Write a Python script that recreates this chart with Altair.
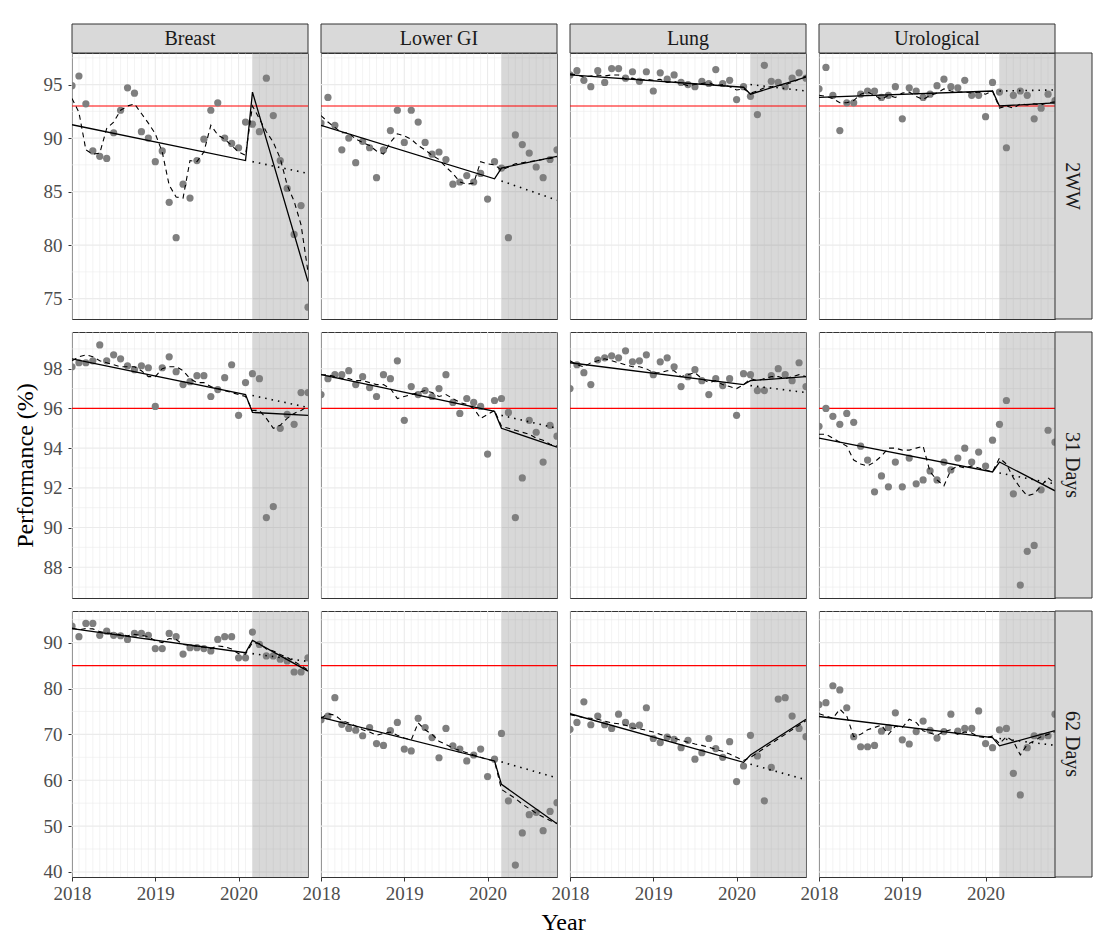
import altair as alt
import pandas as pd

# ---------------------------------------------------------------------------
# Monthly series, January 2018 to November 2020
# ---------------------------------------------------------------------------
MONTHS = [f"{2018 + i // 12}-{i % 12 + 1:02d}" for i in range(35)]
LOCKDOWN_START = "2020-03"          # first month of the shaded COVID-19 period

SITES = ["Breast", "Lower GI", "Lung", "Urological"]
MEASURES = ["2WW", "31 Days", "62 Days"]
TARGETS = {"2WW": 93, "31 Days": 96, "62 Days": 85}

Y_DOMAIN = {"2WW": [73.1, 97.95], "31 Days": [86.45, 99.85], "62 Days": [38.9, 96.9]}
Y_TICKS = {"2WW": [75, 80, 85, 90, 95],
           "31 Days": [88, 90, 92, 94, 96, 98],
           "62 Days": [40, 50, 60, 70, 80, 90]}
X_TICKS = [2018, 2019, 2020]

# observed performance (%), fitted values (with seasonality),
# segmented trend [first, pre-COVID last, COVID first, last] and
# counterfactual trend [COVID first, last]

# --- 2 week wait -----------------------------------------------------------
BREAST_2WW = [94.9, 95.8, 93.2, 88.8, 88.3, 88.1, 90.5, 92.6, 94.7, 94.2, 90.6, 90.0,
              87.8, 88.8, 84.0, 80.7, 85.7, 84.4, 87.9, 89.9, 92.6, 93.3, 90.0, 89.5,
              89.1, 91.5, 91.3, 90.6, 95.6, 92.1, 87.9, 85.3, 81.0, 83.7, 74.2]
BREAST_2WW_FIT = [93.7, 92.4, 88.9, 88.5, 88.6, 90.9, 91.5, 92.6, 93.0, 93.2, 92.3, 91.4,
                  90.4, 88.7, 85.6, 84.5, 84.4, 87.9, 87.8, 88.7, 91.2, 90.3, 89.9, 89.3,
                  88.7, 88.4, 93.0, 91.8, 90.6, 89.6, 88.1, 85.6, 84.1, 81.9, 77.5]
BREAST_2WW_TREND = [91.25, 87.9, 94.3, 76.6]
BREAST_2WW_CF = [87.8, 86.7]

LOWERGI_2WW = [91.4, 93.8, 91.2, 88.9, 90.0, 87.7, 89.7, 89.1, 86.3, 88.9, 90.7, 92.6,
               89.6, 92.6, 91.5, 89.6, 88.5, 88.7, 88.0, 85.7, 85.9, 86.5, 85.9, 86.7,
               84.3, 87.8, 87.2, 80.7, 90.3, 89.4, 88.6, 87.3, 86.3, 88.0, 88.9]
LOWERGI_2WW_FIT = [92.1, 91.5, 91.0, 90.5, 90.5, 89.9, 89.6, 89.3, 88.8, 88.5, 89.6, 90.4,
                   90.2, 89.9, 89.3, 88.9, 88.4, 88.0, 87.3, 86.7, 85.9, 85.7, 85.8, 87.8,
                   87.6, 87.5, 87.0, 87.3, 87.6, 87.7, 87.8, 87.9, 88.0, 88.1, 88.2]
LOWERGI_2WW_TREND = [91.2, 86.2, 87.2, 88.3]
LOWERGI_2WW_CF = [86.0, 84.2]

LUNG_2WW = [95.9, 96.3, 95.4, 94.8, 96.3, 95.2, 96.5, 96.5, 95.6, 96.2, 95.3, 96.2,
            94.4, 96.1, 95.5, 95.9, 95.2, 95.0, 94.8, 95.3, 95.1, 96.4, 95.1, 95.4,
            93.6, 94.8, 93.9, 92.2, 96.8, 95.3, 95.2, 94.8, 95.6, 96.1, 95.6]
LUNG_2WW_FIT = [96.0, 95.9, 95.7, 95.8, 95.9, 95.8, 95.9, 95.9, 95.5, 95.6, 95.4, 95.5,
                95.4, 95.5, 95.2, 95.3, 95.1, 94.9, 95.0, 95.1, 95.2, 94.9, 95.0, 94.8,
                94.5, 94.6, 94.2, 94.4, 94.7, 94.8, 94.9, 95.0, 95.2, 95.5, 95.8]
LUNG_2WW_TREND = [95.9, 94.75, 94.1, 95.7]
LUNG_2WW_CF = [95.0, 94.4]

URO_2WW = [94.6, 96.6, 94.0, 90.7, 93.3, 93.3, 94.1, 94.4, 94.4, 93.8, 94.0, 94.8,
           91.8, 94.7, 94.4, 93.8, 94.1, 94.9, 95.5, 94.8, 94.7, 95.4, 94.0, 94.0,
           92.0, 95.2, 94.3, 89.1, 94.0, 94.4, 94.0, 91.8, 92.8, 94.1, 93.5]
URO_2WW_FIT = [94.0, 93.9, 93.7, 93.3, 93.3, 93.5, 94.1, 94.3, 94.0, 93.6, 94.0, 93.8,
               94.2, 94.3, 93.9, 93.6, 94.0, 94.2, 94.6, 94.4, 94.3, 94.3, 94.2, 94.3,
               94.1, 94.4, 92.8, 93.0, 92.8, 93.2, 93.1, 93.2, 93.1, 93.3, 93.4]
URO_2WW_TREND = [93.8, 94.4, 93.0, 93.3]
URO_2WW_CF = [94.4, 94.5]

# --- 31 days ----------------------------------------------------------------
BREAST_31 = [98.1, 98.3, 98.3, 98.4, 99.2, 98.4, 98.7, 98.5, 98.15, 97.95, 98.15, 98.05,
             96.1, 98.05, 98.6, 97.85, 97.2, 97.35, 97.65, 97.65, 96.6, 96.95, 97.55, 98.2,
             95.65, 97.3, 97.75, 97.5, 90.5, 91.05, 95.0, 95.7, 95.2, 96.8, 96.8]
BREAST_31_FIT = [98.4, 98.6, 98.7, 98.6, 98.4, 98.3, 98.2, 98.1, 98.1, 98.1, 97.9, 97.6,
                 97.6, 98.0, 98.1, 98.1, 97.9, 97.5, 97.3, 97.3, 97.1, 97.0, 96.9, 96.8,
                 96.7, 96.6, 95.9, 95.9, 95.5, 95.0, 95.15, 95.5, 95.75, 95.9, 96.1]
BREAST_31_TREND = [98.5, 96.7, 95.8, 95.65]
BREAST_31_CF = [96.65, 96.05]

LOWERGI_31 = [96.7, 97.5, 97.7, 97.7, 97.9, 97.2, 97.6, 97.05, 96.6, 97.7, 97.5, 98.4,
              95.4, 97.1, 96.7, 96.9, 96.6, 97.0, 97.7, 96.3, 95.75, 96.5, 96.3, 96.1,
              93.7, 96.4, 96.5, 95.8, 90.5, 92.5, 95.4, 94.8, 93.3, 95.15, 94.6]
LOWERGI_31_FIT = [97.7, 97.7, 97.6, 97.5, 97.5, 97.4, 97.4, 97.3, 97.2, 97.2, 97.0, 96.5,
                  96.6, 96.7, 96.8, 96.9, 96.8, 96.6, 96.7, 96.5, 96.3, 96.2, 96.0, 95.5,
                  95.7, 95.9, 95.1, 95.0, 94.9, 94.8, 94.7, 94.5, 94.4, 94.2, 94.1]
LOWERGI_31_TREND = [97.7, 95.85, 95.0, 94.05]
LOWERGI_31_CF = [95.65, 95.0]

LUNG_31 = [97.0, 98.2, 97.8, 97.2, 98.45, 98.55, 98.65, 98.55, 98.9, 98.35, 98.4, 98.7,
           97.7, 98.35, 98.55, 98.1, 97.1, 97.6, 97.95, 97.4, 96.7, 97.5, 97.15, 97.5,
           95.65, 97.75, 97.7, 96.9, 96.9, 97.65, 98.0, 97.7, 97.4, 98.3, 97.1]
LUNG_31_FIT = [98.4, 98.2, 98.1, 98.3, 98.4, 98.5, 98.4, 98.3, 98.2, 98.1, 98.1, 98.0,
               97.8, 97.8, 97.9, 97.9, 97.6, 97.7, 97.8, 97.5, 97.3, 97.4, 97.2, 97.1,
               97.0, 97.2, 97.5, 97.4, 97.5, 97.6, 97.6, 97.5, 97.6, 97.7, 97.6]
LUNG_31_TREND = [98.3, 97.2, 97.4, 97.6]
LUNG_31_CF = [97.15, 96.8]

URO_31 = [95.1, 96.0, 95.6, 95.2, 95.75, 95.3, 94.1, 93.4, 91.8, 92.6, 92.05, 93.3,
          92.05, 93.5, 92.2, 92.4, 92.85, 92.4, 93.3, 92.9, 93.5, 94.0, 93.3, 93.8,
          93.1, 94.4, 95.2, 96.4, 91.7, 87.1, 88.8, 89.1, 91.9, 94.9, 94.3]
URO_31_FIT = [94.7, 94.7, 94.5, 94.3, 94.1, 93.4, 93.2, 93.1, 93.3, 93.6, 94.0, 94.0,
              93.9, 93.9, 94.0, 94.1, 92.8, 92.4, 92.1, 92.9, 93.1, 93.0, 93.1, 93.0,
              92.9, 92.8, 93.5, 93.2, 92.5, 92.0, 91.6, 91.7, 92.1, 92.5, 92.2]
URO_31_TREND = [94.5, 92.8, 93.3, 91.85]
URO_31_CF = [92.75, 92.2]

# --- 62 days ----------------------------------------------------------------
BREAST_62 = [93.6, 91.3, 94.2, 94.2, 91.6, 92.5, 91.6, 91.5, 90.7, 92.0, 92.0, 91.6,
             88.7, 88.7, 92.0, 91.3, 87.5, 88.9, 88.9, 88.7, 88.2, 90.7, 91.3, 91.3,
             86.7, 86.7, 92.3, 89.6, 87.1, 87.1, 86.4, 86.0, 83.6, 83.6, 86.7]
BREAST_62_FIT = [93.2, 92.8, 93.1, 93.0, 92.4, 92.1, 92.0, 91.7, 91.5, 91.8, 91.6, 91.3,
                 90.4, 90.0, 90.9, 90.7, 89.6, 89.4, 89.2, 89.0, 88.7, 89.3, 89.1, 88.6,
                 87.6, 87.5, 90.0, 89.8, 88.6, 88.2, 87.4, 86.8, 85.9, 85.0, 84.0]
BREAST_62_TREND = [93.05, 87.8, 90.5, 83.8]
BREAST_62_CF = [87.6, 85.9]

LOWERGI_62 = [73.2, 74.0, 78.0, 72.2, 71.3, 70.9, 69.7, 71.5, 68.0, 67.6, 70.8, 72.6,
              66.8, 66.4, 73.5, 71.5, 69.3, 64.9, 71.3, 67.5, 66.8, 64.2, 65.5, 66.8,
              60.8, 64.6, 70.2, 55.5, 41.5, 48.5, 52.5, 53.0, 49.0, 53.2, 55.1]
LOWERGI_62_FIT = [73.5, 74.5, 74.2, 73.0, 72.5, 71.8, 71.0, 70.5, 69.8, 70.2, 70.5, 69.8,
                  69.2, 68.8, 72.5, 71.0, 70.0, 68.5, 67.8, 67.0, 66.5, 66.0, 65.5, 65.0,
                  64.5, 64.2, 58.0, 57.0, 56.0, 54.8, 53.8, 52.8, 52.0, 51.2, 50.6]
LOWERGI_62_TREND = [73.7, 64.2, 59.1, 50.5]
LOWERGI_62_CF = [64.0, 60.5]

LUNG_62 = [71.1, 72.6, 77.1, 72.1, 74.0, 72.1, 71.3, 74.4, 72.6, 71.8, 72.0, 75.8,
           69.1, 68.2, 69.4, 68.9, 67.1, 68.7, 64.6, 66.0, 69.1, 66.9, 65.0, 68.4,
           59.7, 63.1, 69.8, 65.3, 55.5, 62.8, 77.7, 78.0, 74.0, 71.3, 69.5]
LUNG_62_FIT = [74.3, 74.0, 73.6, 73.5, 73.3, 72.9, 72.5, 72.3, 72.0, 71.4, 71.2, 70.9,
               70.5, 70.0, 69.6, 69.2, 68.7, 68.3, 67.9, 67.6, 67.2, 66.7, 66.3, 65.7,
               65.0, 64.3, 65.0, 66.0, 67.0, 68.0, 69.0, 70.0, 71.0, 72.0, 73.0]
LUNG_62_TREND = [74.5, 63.9, 65.5, 73.3]
LUNG_62_CF = [63.5, 60.1]

URO_62 = [76.5, 76.9, 80.6, 79.7, 75.8, 69.5, 67.3, 67.3, 67.6, 70.7, 71.5, 74.7,
          68.8, 67.9, 70.6, 72.9, 70.9, 69.2, 70.6, 74.4, 70.7, 71.3, 71.3, 75.1,
          68.0, 67.1, 71.0, 71.3, 61.5, 56.8, 67.1, 69.7, 69.5, 69.7, 74.4]
URO_62_FIT = [74.5, 74.0, 73.5, 75.5, 74.0, 69.5, 70.0, 71.0, 71.5, 72.0, 70.0, 71.8,
              71.5, 73.3, 72.6, 70.8, 70.3, 69.8, 70.6, 71.0, 70.0, 70.5, 70.3, 69.5,
              69.3, 69.6, 68.0, 69.5, 68.5, 65.5, 67.8, 68.6, 69.5, 70.0, 70.6]
URO_62_TREND = [73.9, 69.3, 67.5, 70.8]
URO_62_CF = [69.1, 67.6]

SERIES = {
    ("2WW", "Breast"): (BREAST_2WW, BREAST_2WW_FIT, BREAST_2WW_TREND, BREAST_2WW_CF),
    ("2WW", "Lower GI"): (LOWERGI_2WW, LOWERGI_2WW_FIT, LOWERGI_2WW_TREND, LOWERGI_2WW_CF),
    ("2WW", "Lung"): (LUNG_2WW, LUNG_2WW_FIT, LUNG_2WW_TREND, LUNG_2WW_CF),
    ("2WW", "Urological"): (URO_2WW, URO_2WW_FIT, URO_2WW_TREND, URO_2WW_CF),
    ("31 Days", "Breast"): (BREAST_31, BREAST_31_FIT, BREAST_31_TREND, BREAST_31_CF),
    ("31 Days", "Lower GI"): (LOWERGI_31, LOWERGI_31_FIT, LOWERGI_31_TREND, LOWERGI_31_CF),
    ("31 Days", "Lung"): (LUNG_31, LUNG_31_FIT, LUNG_31_TREND, LUNG_31_CF),
    ("31 Days", "Urological"): (URO_31, URO_31_FIT, URO_31_TREND, URO_31_CF),
    ("62 Days", "Breast"): (BREAST_62, BREAST_62_FIT, BREAST_62_TREND, BREAST_62_CF),
    ("62 Days", "Lower GI"): (LOWERGI_62, LOWERGI_62_FIT, LOWERGI_62_TREND, LOWERGI_62_CF),
    ("62 Days", "Lung"): (LUNG_62, LUNG_62_FIT, LUNG_62_TREND, LUNG_62_CF),
    ("62 Days", "Urological"): (URO_62, URO_62_FIT, URO_62_TREND, URO_62_CF),
}

# ---------------------------------------------------------------------------
# Styling
# ---------------------------------------------------------------------------
FONT = "Liberation Serif"
W, H = 236, 266            # plot area of one panel
GAP = 13                   # space between panels
STRIP_TOP = 29             # height of the column strips
STRIP_RIGHT = 37           # width of the row strips
BORDER = "#333333"
STRIP_FILL = "#D9D9D9"
GRID = "#EBEBEB"
TICK_FONT = 19
STRIP_FONT = 20
TITLE_FONT = 24


def decimal_year(month):
    year, mon = month.split("-")
    return int(year) + (int(mon) - 1) / 12


XS = [decimal_year(m) for m in MONTHS]
X_START, X_END = XS[0], XS[-1]
I_COVID = MONTHS.index(LOCKDOWN_START)


def panel(ri, ci):
    measure, site = MEASURES[ri], SITES[ci]
    obs, fit, trend, cf = SERIES[(measure, site)]
    lo, hi = Y_DOMAIN[measure]
    majors = Y_TICKS[measure]
    step = majors[1] - majors[0]
    minors = [v + step / 2 for v in [majors[0] - step] + majors if lo < v + step / 2 < hi]

    xs = alt.Scale(domain=[X_START, X_END], nice=False, zero=False)
    ys = alt.Scale(domain=[lo, hi], nice=False, zero=False)

    label_style = dict(labelFont=FONT, labelFontSize=TICK_FONT, labelColor="#4D4D4D",
                       tickColor=BORDER, tickSize=4, tickWidth=1, grid=False,
                       domain=False, labelFlush=False)
    if ri == len(MEASURES) - 1:
        x_axis = alt.Axis(values=X_TICKS, format="d", title=None, labelPadding=3,
                          **label_style)
    else:
        x_axis = None
    if ci == 0:
        y_axis = alt.Axis(values=majors, title="Performance (%)" if ri == 1 else None,
                          labelPadding=6, titleFont=FONT, titleFontSize=TITLE_FONT,
                          titleFontWeight="normal", titleColor="black", titlePadding=6,
                          **label_style)
    else:
        y_axis = None

    def X(field):
        return alt.X(field, scale=xs, axis=x_axis)

    def Y(field):
        return alt.Y(field, scale=ys, axis=y_axis)

    series = pd.DataFrame({"x": XS, "obs": obs, "fit": fit})
    trend_df = pd.DataFrame({"x": [XS[0], XS[I_COVID - 1], XS[I_COVID], XS[-1]], "y": trend})
    cf_df = pd.DataFrame({"x": [XS[I_COVID], XS[-1]], "y": cf})
    years = [x for x in XS if x == int(x)]
    vmajor = pd.DataFrame({"g": years})
    vminor = pd.DataFrame({"g": [x for x in XS if x not in years]})
    hmajor = pd.DataFrame({"g": majors})
    hminor = pd.DataFrame({"g": minors})
    period = pd.DataFrame({"x": [XS[I_COVID]], "x2": [X_END]})
    target = pd.DataFrame({"y": [TARGETS[measure]]})

    def gx(df, w):
        return alt.Chart(df).mark_rule(color=GRID, strokeWidth=w).encode(x=X("g:Q"))

    def gy(df, w):
        return alt.Chart(df).mark_rule(color=GRID, strokeWidth=w).encode(y=Y("g:Q"))

    layers = [
        gx(vminor, 0.6), gy(hminor, 0.6), gx(vmajor, 1.1), gy(hmajor, 1.1),
        alt.Chart(period).mark_rect(color="#7F7F7F", opacity=0.3).encode(
            x=X("x:Q"), x2="x2:Q", y=alt.value(0), y2=alt.value(H)),
        alt.Chart(target).mark_rule(color="#FF0000", strokeWidth=1.2).encode(y=Y("y:Q")),
        alt.Chart(series).mark_circle(size=52, color="#7F7F7F", opacity=1, clip=True).encode(
            x=X("x:Q"), y=Y("obs:Q")),
        alt.Chart(series).mark_line(color="black", strokeWidth=1.1, strokeDash=[5, 4],
                                    clip=True).encode(x=X("x:Q"), y=Y("fit:Q")),
        alt.Chart(trend_df).mark_line(color="black", strokeWidth=1.3, clip=True).encode(
            x=X("x:Q"), y=Y("y:Q")),
        alt.Chart(cf_df).mark_line(color="black", strokeWidth=1.6, strokeDash=[1.5, 5],
                                   clip=True).encode(x=X("x:Q"), y=Y("y:Q")),
    ]

    if ri == 0:
        lab = pd.DataFrame({"label": [site]})
        layers += [
            alt.Chart(lab).mark_rect(fill=STRIP_FILL, stroke=BORDER, strokeWidth=1).encode(
                x=alt.value(0), x2=alt.value(W), y=alt.value(-STRIP_TOP), y2=alt.value(0)),
            alt.Chart(lab).mark_text(font=FONT, fontSize=STRIP_FONT, color="#1A1A1A").encode(
                x=alt.value(W / 2), y=alt.value(-STRIP_TOP / 2), text="label:N"),
        ]
    if ci == len(SITES) - 1:
        lab = pd.DataFrame({"label": [measure]})
        layers += [
            alt.Chart(lab).mark_rect(fill=STRIP_FILL, stroke=BORDER, strokeWidth=1).encode(
                x=alt.value(W), x2=alt.value(W + STRIP_RIGHT), y=alt.value(0),
                y2=alt.value(H)),
            alt.Chart(lab).mark_text(font=FONT, fontSize=STRIP_FONT, color="#1A1A1A",
                                     angle=90).encode(
                x=alt.value(W + STRIP_RIGHT / 2 - 2), y=alt.value(H / 2), text="label:N"),
        ]
    if ri == len(MEASURES) - 1 and ci == 1:
        # x-axis title, centred under the grid of panels
        lab = pd.DataFrame({"label": ["Year"]})
        layers.append(
            alt.Chart(lab).mark_text(font=FONT, fontSize=TITLE_FONT, color="black").encode(
                x=alt.value(W + GAP / 2), y=alt.value(H + 46), text="label:N"))

    return alt.layer(*layers).properties(width=W, height=H)


panels = [panel(r, c) for r in range(len(MEASURES)) for c in range(len(SITES))]

chart = alt.ConcatChart(
    concat=panels,
    columns=len(SITES),
    spacing={"row": GAP, "column": GAP},
    bounds="flush",
    background="white",
    padding={"left": 12, "top": 23, "right": 0, "bottom": 2},
).configure_view(stroke=BORDER, strokeWidth=1)

chart.save("out.html", embed_options={"renderer": "svg", "actions": False})
